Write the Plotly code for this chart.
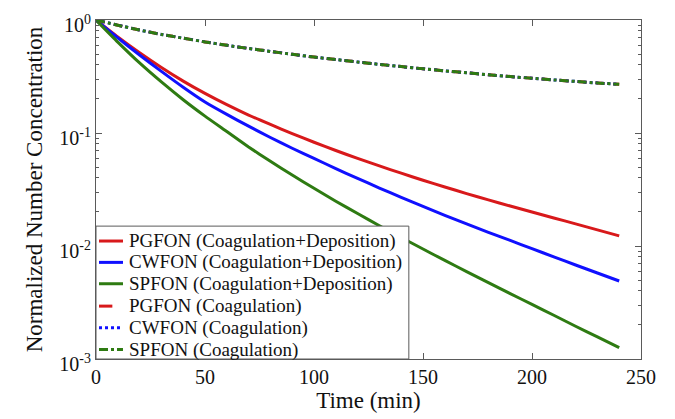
import plotly.graph_objects as go

time_min = [0, 10, 20, 30, 40, 50, 60, 70, 80, 90, 100, 110, 120, 130, 140, 150,
            160, 170, 180, 190, 200, 210, 220, 230, 240]

pgfon_cd = [1, 0.708, 0.513, 0.380, 0.288, 0.224, 0.178, 0.144, 0.119, 0.0989, 0.0828,
            0.070, 0.0596, 0.0511, 0.0441, 0.0382, 0.0333, 0.0291, 0.0256, 0.0226,
            0.0200, 0.0177, 0.0157, 0.0139, 0.0123]
cwfon_cd = [1, 0.695, 0.490, 0.351, 0.254, 0.188, 0.146, 0.115, 0.0912, 0.0733, 0.0596,
            0.0484, 0.0396, 0.0326, 0.0269, 0.0224, 0.0187, 0.0157, 0.0132, 0.0112,
            0.00946, 0.00802, 0.00679, 0.00577, 0.0049]
spfon_cd = [1, 0.638, 0.417, 0.283, 0.197, 0.141, 0.103, 0.0753, 0.0562, 0.0425, 0.0324,
            0.0249, 0.0194, 0.0151, 0.0119, 0.0094, 0.00746, 0.00594, 0.00474, 0.00379,
            0.00304, 0.00244, 0.00195, 0.00157, 0.00126]
pgfon_c = [1, 0.90, 0.815, 0.745, 0.69, 0.64, 0.597, 0.56, 0.527, 0.497, 0.47, 0.447,
           0.425, 0.405, 0.387, 0.37, 0.355, 0.341, 0.328, 0.316, 0.305, 0.295, 0.286,
           0.277, 0.27]
cwfon_c = list(pgfon_c)
spfon_c = list(pgfon_c)

y_tickvals = [1, 0.1, 0.01, 0.001]
y_ticktext = ["10<sup>0</sup>", "10<sup>-1</sup>", "10<sup>-2</sup>", "10<sup>-3</sup>"]
y_minor = [m * 10.0 ** e for e in (-3, -2, -1) for m in range(2, 10)]
x_tickvals = [0, 50, 100, 150, 200, 250]

RED = "#d8191b"
BLUE = "#1010ff"
GREEN = "#2e7b12"
AX = "#5a5a5a"
TXT = "#111111"
FONT = "Liberation Serif, Times New Roman, serif"

series = [
    ("PGFON (Coagulation+Deposition)", pgfon_cd, RED, "solid"),
    ("CWFON (Coagulation+Deposition)", cwfon_cd, BLUE, "solid"),
    ("SPFON (Coagulation+Deposition)", spfon_cd, GREEN, "solid"),
    ("PGFON (Coagulation)", pgfon_c, RED, "dash"),
    ("CWFON (Coagulation)", cwfon_c, BLUE, "dot"),
    ("SPFON (Coagulation)", spfon_c, GREEN, "dashdot"),
]

fig = go.Figure()
for name, vals, col, dash in series:
    fig.add_trace(go.Scatter(
        x=time_min, y=vals, mode="lines", name=name, showlegend=False,
        line=dict(color=col, width=3, dash=dash, shape="spline", smoothing=0.5),
    ))

axis_common = dict(
    showgrid=False, zeroline=False, showline=True, linecolor=AX, linewidth=1,
    mirror="ticks", ticks="inside", tickcolor=AX, ticklen=6,
    tickfont=dict(family=FONT, size=20, color=TXT),
)
fig.update_layout(
    width=675, height=419,
    margin=dict(l=96, r=34, t=16, b=60),
    paper_bgcolor="white", plot_bgcolor="white",
    font=dict(family=FONT, size=19, color=TXT),
    showlegend=False,
    xaxis=dict(
        range=[0, 250], tickvals=x_tickvals,
        title=dict(text="Time (min)", font=dict(family=FONT, size=23, color=TXT), standoff=2),
        **axis_common,
    ),
    yaxis=dict(
        type="log", range=[-3, 0], tickvals=y_tickvals, ticktext=y_ticktext,
        ticklabelshift=5,
        title=dict(text="Normalized Number Concentration", font=dict(family=FONT, size=23, color=TXT), standoff=10),
        **axis_common,
    ),
    yaxis2=dict(
        type="log", range=[-3, 0], overlaying="y", side="left", tickvals=y_minor,
        showticklabels=False, showgrid=False, zeroline=False, showline=False,
        mirror="ticks", ticks="inside", tickcolor=AX, ticklen=3,
    ),
)
# keep the minor-tick axis alive with an empty trace
fig.add_trace(go.Scatter(x=[], y=[], yaxis="y2", showlegend=False, hoverinfo="skip"))

# legend drawn in the lower-left corner of the axes (MATLAB style)
box_x1 = 0.574
box_y1 = 0.392
fig.add_shape(type="rect", xref="x domain", yref="y domain", x0=0, x1=box_x1, y0=0, y1=box_y1,
              fillcolor="white", line=dict(color=AX, width=1), layer="above")
row_y = [0.348, 0.285, 0.222, 0.156, 0.092, 0.028]
for (name, vals, col, dash), ry in zip(series, row_y):
    x_end = 0.030 if dash == "dash" else 0.0495
    fig.add_shape(type="line", xref="x domain", yref="y domain",
                  x0=0.0055, x1=x_end, y0=ry, y1=ry, layer="above",
                  line=dict(color=col, width=3, dash=("solid" if dash == "dash" else dash)))
    fig.add_annotation(xref="x domain", yref="y domain", x=0.056, y=ry, text=name,
                       showarrow=False, xanchor="left", yanchor="middle",
                       font=dict(family=FONT, size=19, color=TXT))

fig.write_html("out.html")
